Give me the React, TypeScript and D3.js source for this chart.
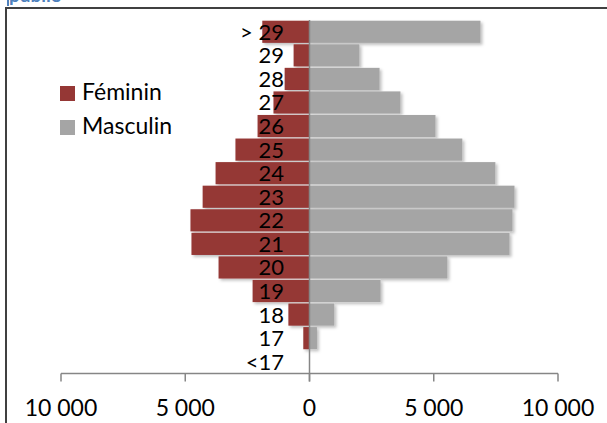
import React from 'react';
import * as d3 from 'd3';

const categories = ['> 29', '29', '28', '27', '26', '25', '24', '23', '22', '21', '20', '19', '18', '17', '<17'];
const feminin = [1900, 640, 1000, 1450, 2090, 2980, 3780, 4300, 4790, 4750, 3660, 2290, 850, 250, 0];
const masculin = [6880, 2010, 2820, 3660, 5070, 6150, 7480, 8250, 8170, 8050, 5550, 2860, 1000, 300, 0];
const ticks = [-10000, -5000, 0, 5000, 10000];

const W = 607;
const H = 423;
const font = 'Lato, "Open Sans", sans-serif';

const App: React.FC = () => {
  const x = d3.scaleLinear().domain([-10000, 10000]).range([61, 558]);
  const y = d3.scaleBand<string>().domain(categories).range([20, 373.5]).paddingInner(0.06).paddingOuter(0.03);
  const fmt = (v: number) => d3.format(',')(Math.abs(v)).replace(/,/g, ' ');
  const axisY = 373.5;

  return (
    <div style={{ position: 'absolute', left: 0, top: 0 }}>
      <svg width={W} height={H} style={{ display: 'block', background: '#fff' }}>
        <defs>
          <filter id="shadow" x="-10%" y="-20%" width="130%" height="160%">
            <feDropShadow dx="2" dy="2" stdDeviation="1.5" floodColor="#000" floodOpacity="0.25" />
          </filter>
        </defs>

        {/* caption cut off above the box */}
        <text x={9} y={2} fontFamily={font} fontWeight="bold" fontSize={19} fill="#4f81bd">publié</text>
        <line x1={8} y1={0} x2={8} y2={6} stroke="#4f81bd" strokeWidth={2} />

        {/* chart border */}
        <path d={`M6,${H} V8 H${W}`} fill="none" stroke="#404040" strokeWidth={2} />

        {/* bars */}
        <g filter="url(#shadow)">
          {categories.map((c, i) => (
            <rect key={'m' + c} x={x(0)} y={y(c)} width={x(masculin[i]) - x(0)} height={y.bandwidth()} fill="#a5a5a5" />
          ))}
          {categories.map((c, i) => (
            <rect key={'f' + c} x={x(-feminin[i])} y={y(c)} width={x(0) - x(-feminin[i])} height={y.bandwidth()} fill="#953735" />
          ))}
        </g>

        {/* zero line and axis */}
        <line x1={x(0)} x2={x(0)} y1={20} y2={axisY + 8} stroke="#868686" strokeWidth={1.5} />
        <line x1={x(-10000)} x2={x(10000)} y1={axisY} y2={axisY} stroke="#868686" strokeWidth={1.5} />
        {ticks.map(t => (
          <g key={t}>
            <line x1={x(t)} x2={x(t)} y1={axisY} y2={axisY + 8} stroke="#868686" strokeWidth={1.5} />
            <text x={x(t)} y={416} textAnchor="middle" fontFamily={font} fontSize={23} fill="#000">{fmt(t)}</text>
          </g>
        ))}

        {/* category labels */}
        {categories.map(c => (
          <text key={'l' + c} x={284} y={(y(c) ?? 0) + y.bandwidth() / 2 + 8} textAnchor="end" fontFamily={font} fontSize={22} fill="#000">{c}</text>
        ))}

        {/* legend */}
        <rect x={60} y={86} width={15} height={15} fill="#953735" />
        <text x={82} y={100} fontFamily={font} fontSize={23} fill="#000">Féminin</text>
        <rect x={60} y={120} width={15} height={15} fill="#a5a5a5" />
        <text x={82} y={134} fontFamily={font} fontSize={23} fill="#000">Masculin</text>
      </svg>
    </div>
  );
};

export default App;
